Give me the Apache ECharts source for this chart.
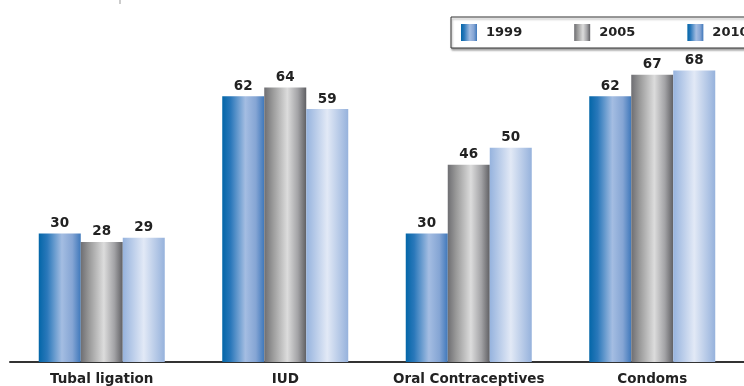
<!DOCTYPE html>
<html><head><meta charset="utf-8">
<script src="https://cdn.jsdelivr.net/npm/echarts@6/dist/echarts.min.js"></script>
<style>html,body{margin:0;padding:0;background:#fff}#c{width:744px;height:386px}</style>
</head><body><div id="c"></div>
<script>
const categories = ['Tubal ligation', 'IUD', 'Oral Contraceptives', 'Condoms'];
const seriesNames = ['1999', '2005', '2010'];
const v1999 = [30, 62, 30, 62];
const v2005 = [28, 64, 46, 67];
const v2010 = [29, 59, 50, 68];

function grad(stops) {
  return new echarts.graphic.LinearGradient(0, 0, 1, 0, stops.map(s => ({offset: s[0], color: s[1]})));
}
const fills = [
  grad([[0, '#0366a8'], [0.2, '#2a78ba'], [0.55, '#a4bde2'], [0.8, '#85a5d4'], [1, '#3f78bb']]),
  grad([[0, '#6e6e72'], [0.2, '#999'], [0.55, '#dcdcdc'], [0.8, '#a3a3a6'], [1, '#5f5f63']]),
  grad([[0, '#96b3de'], [0.5, '#e2e9f6'], [1, '#96b2dc']])
];
const legendFills = [fills[0], fills[1], fills[0]];
const data = [v1999, v2005, v2010];

const chart = echarts.init(document.getElementById('c'), null, {renderer: 'canvas'});
chart.setOption({
  animation: false,
  grid: {left: 10, width: 748, top: 19, bottom: 22, containLabel: false},
  legend: {
    left: 451, top: 17, width: 360,
    orient: 'horizontal',
    padding: [7, 10, 7, 10],
    borderColor: '#333', borderWidth: 1,
    shadowColor: 'rgba(0,0,0,0.35)', shadowOffsetX: 1, shadowOffsetY: 2, shadowBlur: 2,
    backgroundColor: '#fff',
    itemWidth: 16, itemHeight: 17, itemGap: 52,
    textStyle: {fontFamily: 'DejaVu Sans', fontWeight: 'bold', fontSize: 13, color: '#222', padding: [0, 0, 0, 4]},
    data: seriesNames.map((n, i) => ({name: n, icon: 'rect', itemStyle: {color: legendFills[i]}}))
  },
  graphic: [{type: 'line', shape: {x1: 120, y1: 0, x2: 120, y2: 4}, style: {stroke: '#999', lineWidth: 1}}],
  xAxis: {
    type: 'category', data: categories,
    axisLine: {lineStyle: {color: '#333', width: 2}},
    axisTick: {show: false},
    axisLabel: {margin: 10, fontFamily: 'DejaVu Sans', fontWeight: 'bold', fontSize: 13.5, color: '#222', interval: 0}
  },
  yAxis: {type: 'value', min: 0, max: 80, show: false, splitLine: {show: false}},
  series: data.map((d, i) => ({
    name: seriesNames[i], type: 'bar', data: d,
    barWidth: 42, barGap: '0%',
    itemStyle: {color: fills[i]},
    label: {show: true, position: 'top', distance: 3, fontFamily: 'DejaVu Sans', fontWeight: 'bold', fontSize: 13.5, color: '#222'}
  }))
});
</script></body></html>
